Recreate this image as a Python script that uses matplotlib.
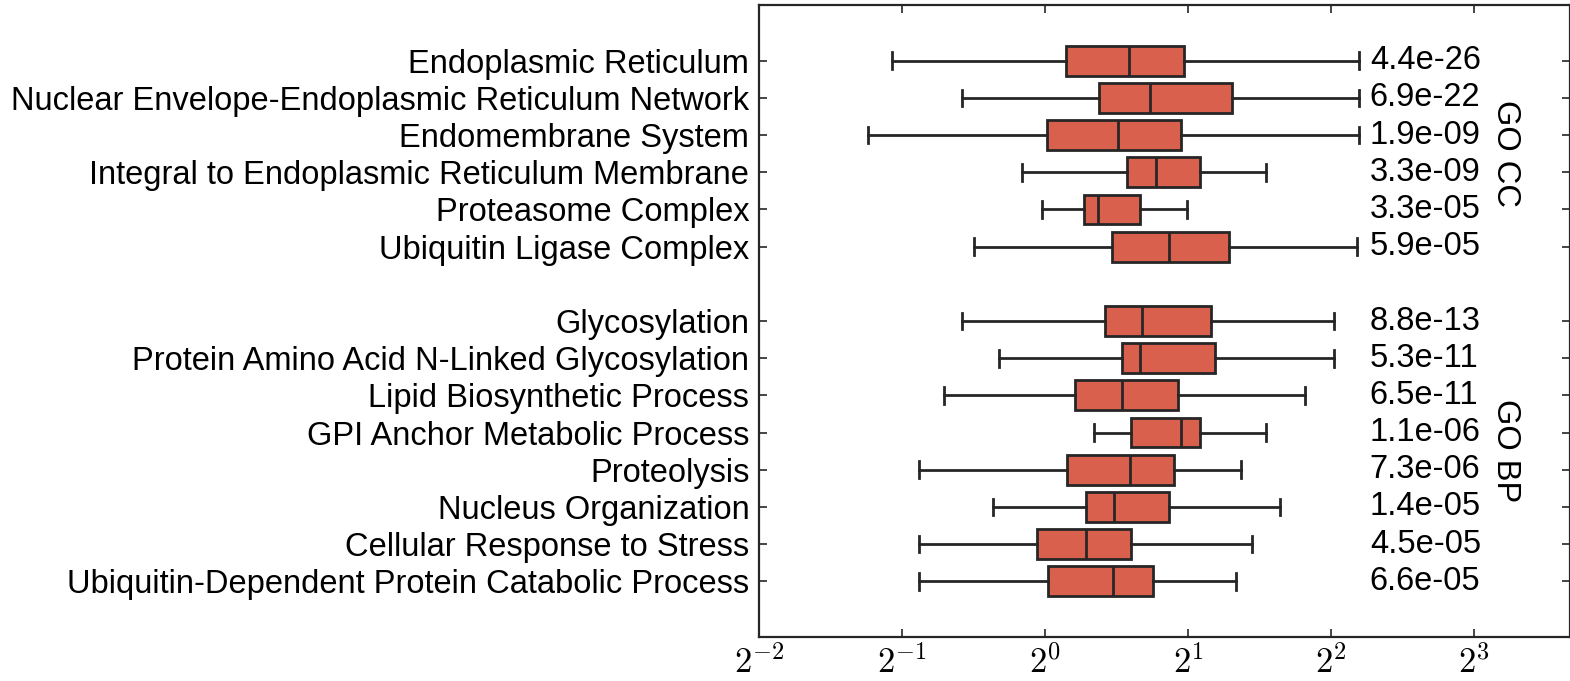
import numpy as np
import matplotlib
matplotlib.use("Agg")
import matplotlib.pyplot as plt

plt.rcParams['font.family'] = ['Liberation Sans', 'DejaVu Sans']
plt.rcParams['mathtext.fontset'] = 'cm'

# GO terms, top to bottom
cc_terms = ["Endoplasmic Reticulum",
            "Nuclear Envelope-Endoplasmic Reticulum Network",
            "Endomembrane System",
            "Integral to Endoplasmic Reticulum Membrane",
            "Proteasome Complex",
            "Ubiquitin Ligase Complex"]
bp_terms = ["Glycosylation",
            "Protein Amino Acid N-Linked Glycosylation",
            "Lipid Biosynthetic Process",
            "GPI Anchor Metabolic Process",
            "Proteolysis",
            "Nucleus Organization",
            "Cellular Response to Stress",
            "Ubiquitin-Dependent Protein Catabolic Process"]

cc_pvals = ["4.4e-26", "6.9e-22", "1.9e-09", "3.3e-09", "3.3e-05", "5.9e-05"]
bp_pvals = ["8.8e-13", "5.3e-11", "6.5e-11", "1.1e-06", "7.3e-06", "1.4e-05",
            "4.5e-05", "6.6e-05"]

# box stats (fold change): low whisker, q1, median, q3, high whisker
cc_low = [0.477, 0.668, 0.423, 0.896, 0.987, 0.710]
cc_q1 = [1.107, 1.299, 1.008, 1.488, 1.208, 1.386]
cc_med = [1.502, 1.661, 1.427, 1.712, 1.291, 1.827]
cc_q3 = [1.959, 2.472, 1.931, 2.120, 1.585, 2.440]
cc_high = [4.58, 4.58, 4.58, 2.915, 1.993, 4.54]

bp_low = [0.670, 0.799, 0.614, 1.266, 0.544, 0.776, 0.544, 0.544]
bp_q1 = [1.336, 1.455, 1.158, 1.517, 1.114, 1.220, 0.961, 1.015]
bp_med = [1.602, 1.585, 1.450, 1.936, 1.507, 1.399, 1.221, 1.393]
bp_q3 = [2.239, 2.283, 1.905, 2.117, 1.872, 1.824, 1.519, 1.688]
bp_high = [4.05, 4.05, 3.53, 2.915, 2.586, 3.128, 2.732, 2.528]

labels = cc_terms + bp_terms
pvals = cc_pvals + bp_pvals
lows = cc_low + bp_low
q1s = cc_q1 + bp_q1
meds = cc_med + bp_med
q3s = cc_q3 + bp_q3
highs = cc_high + bp_high
positions = list(range(len(cc_terms))) + \
    list(range(len(cc_terms) + 1, len(cc_terms) + 1 + len(bp_terms)))

stats = []
for lab, lo, a, m, b, hi in zip(labels, lows, q1s, meds, q3s, highs):
    stats.append(dict(label=lab, whislo=lo, q1=a, med=m, q3=b, whishi=hi, fliers=[]))

fig = plt.figure(figsize=(15.7, 6.81), dpi=100)
ax = fig.add_axes([759 / 1570, 44 / 681, 1 - 759 / 1570, 632 / 681])

edge = '#262626'
ax.bxp(stats, positions=positions, vert=False, widths=0.8, capwidths=0.45,
       patch_artist=True, showfliers=False,
       boxprops=dict(facecolor='#d9604c', edgecolor=edge, linewidth=2.0),
       medianprops=dict(color=edge, linewidth=2.0),
       whiskerprops=dict(color=edge, linewidth=2.0),
       capprops=dict(color=edge, linewidth=2.0))

ax.set_xscale('log', base=2)
ax.set_xlim(2 ** -2, 2 ** 3.67)
ax.set_ylim(positions[-1] + 1.5, -1.5)
ax.set_xticks([2.0 ** k for k in range(-2, 4)])
ax.set_xticklabels([r'$2^{%d}$' % k for k in range(-2, 4)], fontsize=25)
ax.minorticks_off()
ax.set_yticks(positions)
ax.set_yticklabels(labels, fontsize=23.5)

ax.tick_params(axis='both', which='both', direction='in', top=True, right=True,
               length=6, width=1.2, color=edge)
ax.tick_params(axis='y', pad=7)
ax.tick_params(axis='x', pad=6)
for s in ax.spines.values():
    s.set_linewidth(1.6)
    s.set_color(edge)

# p-values
for y, p in zip(positions, pvals):
    ax.text(2 ** 2.27, y, p, ha='left', va='center', fontsize=23.5)

# group labels
ax.text(2 ** 3.22, 2.5, "GO CC", rotation=-90, ha='center', va='center', fontsize=23.5)
ax.text(2 ** 3.22, 10.5, "GO BP", rotation=-90, ha='center', va='center', fontsize=23.5)

fig.savefig('out.png', dpi=100)
